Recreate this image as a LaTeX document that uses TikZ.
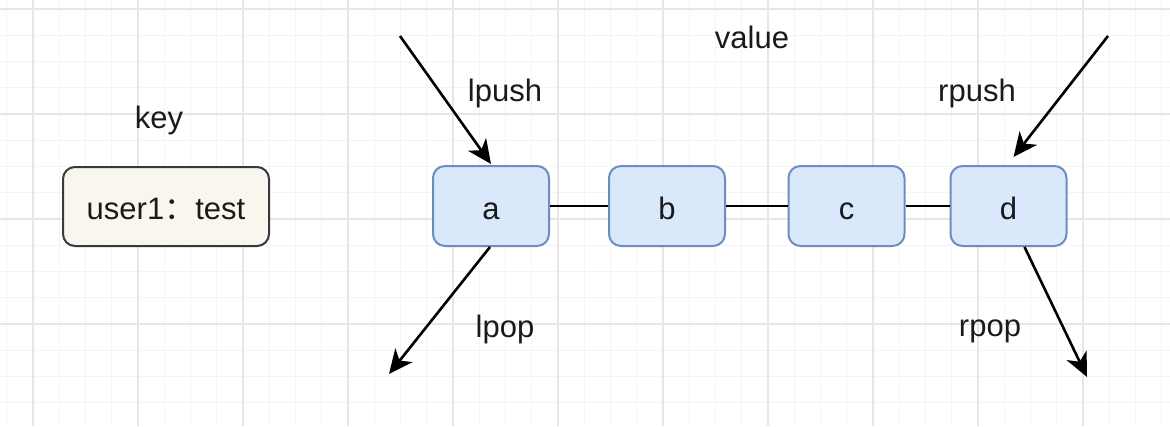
\documentclass[tikz,border=0pt]{standalone}
\usepackage{fontspec}
\setmainfont{Liberation Sans}
\newfontfamily\cjk{Noto Sans CJK SC}
\usetikzlibrary{arrows.meta}
\definecolor{blueFill}{HTML}{DAE8FC}
\definecolor{blueLine}{HTML}{6C8EBF}
\definecolor{keyFill}{HTML}{F9F7ED}
\definecolor{keyLine}{HTML}{36393D}
\definecolor{txt}{HTML}{1A1A1A}
\definecolor{gridMinor}{HTML}{F4F4F4}
\definecolor{gridMajor}{HTML}{E6E6E6}
\tikzset{
  minorgrid/.style={gridMinor, line width=1pt},
  majorgrid/.style={gridMajor, line width=1.6pt},
  bigfont/.style={font=\fontsize{31}{37}\selectfont, text=txt},
  elem/.style={bigfont, draw=blueLine, fill=blueFill, line width=2pt, rounded corners=12pt,
    minimum width=116pt, minimum height=80pt, inner sep=0pt, text height=26pt, text depth=0pt},
  keybox/.style={bigfont, draw=keyLine, fill=keyFill, line width=2pt, rounded corners=12pt,
    minimum width=206pt, minimum height=79pt, inner sep=0pt, text height=25pt, text depth=0pt},
  lbl/.style={bigfont, anchor=base, inner sep=0pt},
  link/.style={black, line width=2.2pt},
  arr/.style={black, line width=2.6pt, -{Stealth[length=24pt, width=22pt, inset=7pt]}}
}
\begin{document}
\begin{tikzpicture}[x=1pt,y=-1pt]
\useasboundingbox (0,0) rectangle (1170,426);
\fill[white] (0,0) rectangle (1170,426);
% grid
\foreach \i in {0,...,44} { \draw[minorgrid] ({6.75+26.25*\i},0) -- ({6.75+26.25*\i},426); }
\foreach \j in {0,...,15} { \draw[minorgrid] (0,{9+26.25*\j}) -- (1170,{9+26.25*\j}); }
\foreach \i in {0,...,10} { \draw[majorgrid] ({33+105*\i},0) -- ({33+105*\i},426); }
\foreach \j in {0,...,3} { \draw[majorgrid] (0,{9+105*\j}) -- (1170,{9+105*\j}); }
% key
\node[lbl] (keylbl) at (159,128) {key};
\node[keybox] (key) at (166,206.5) {user1{\cjk ：}test};
% value
\node[lbl] (valuelbl) at (752,48) {value};
\node[elem] (a) at (491,206) {a};
\node[elem] (b) at (667,206) {b};
\node[elem] (c) at (846.5,206) {c};
\node[elem] (d) at (1008.5,206) {d};
\draw[link] (a) -- (b);
\draw[link] (b) -- (c);
\draw[link] (c) -- (d);
% labels
\node[lbl] (lpushlbl) at (505,101) {lpush};
\node[lbl] (rpushlbl) at (977,101) {rpush};
\node[lbl] (lpoplbl) at (505,337) {lpop};
\node[lbl] (rpoplbl) at (990,336) {rpop};
% arrows
\coordinate (lpushS) at (400,36);
\coordinate (lpopE) at (389,374);
\coordinate (rpushS) at (1108,36);
\coordinate (rpopE) at (1087,377);
\draw[arr] (lpushS) -- ([yshift=1pt]a.north);
\draw[arr] ([xshift=-1pt]a.south) -- (lpopE);
\draw[arr] (rpushS) -- ([xshift=5pt,yshift=8pt]d.north);
\draw[arr] ([xshift=16pt]d.south) -- (rpopE);
\end{tikzpicture}
\end{document}
